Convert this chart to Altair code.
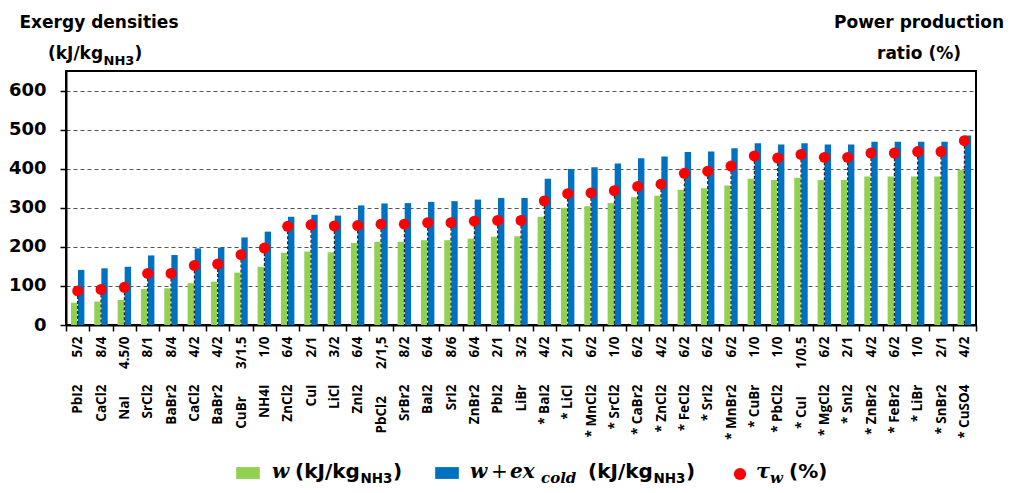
import altair as alt
import pandas as pd

names = ["PbI2", "CaCl2", "NaI", "SrCl2", "BaBr2", "CaCl2", "BaBr2", "CuBr", "NH4I", "ZnCl2",
         "CuI", "LiCl", "ZnI2", "PbCl2", "SrBr2", "BaI2", "SrI2", "ZnBr2", "PbI2", "LiBr",
         "* BaI2", "* LiCl", "* MnCl2", "* SrCl2", "* CaBr2", "* ZnCl2", "* FeCl2", "* SrI2",
         "* MnBr2", "* CuBr", "* PbCl2", "* CuI", "* MgCl2", "* SnI2", "* ZnBr2", "* FeBr2",
         "* LiBr", "* SnBr2", "* CuSO4"]
ratios = ["5/2", "8/4", "4.5/0", "8/1", "8/4", "4/2", "4/2", "3/1.5", "1/0", "6/4",
          "2/1", "3/2", "6/4", "2/1,5", "8/2", "6/4", "8/6", "6/4", "2/1", "3/2",
          "4/2", "2/1", "6/2", "1/0", "6/2", "4/2", "6/2", "6/2",
          "6/2", "1/0", "1/0", "1/0.5", "6/2", "2/1", "4/2", "6/2",
          "1/0", "2/1", "4/2"]
w_vals = [57, 60, 64, 92, 94, 107, 111, 134, 149, 185,
          188, 186, 210, 213, 213, 217, 217, 221, 226, 227,
          277, 300, 304, 312, 327, 331, 346, 350,
          357, 374, 371, 377, 371, 371, 380, 380,
          380, 380, 397]
wc_vals = [141, 145, 149, 178, 179, 196, 198, 224, 239, 277,
           282, 280, 306, 311, 312, 315, 317, 321, 325, 325,
           374, 399, 404, 413, 427, 431, 443, 444,
           452, 465, 462, 465, 462, 462, 469, 469,
           469, 469, 485]
tau_vals = [4.7, 4.9, 5.2, 7.1, 7.1, 8.2, 8.4, 9.7, 10.6, 13.6,
            13.8, 13.65, 13.7, 13.9, 13.9, 14.1, 14.1, 14.3, 14.4, 14.4,
            17.1, 18.1, 18.2, 18.5, 19.1, 19.4, 20.9, 21.2,
            21.9, 23.3, 23.0, 23.5, 23.1, 23.1, 23.7, 23.7,
            23.9, 23.9, 25.4]
series_keys = ["w", "wc"]
series_colors = ["#92D050", "#0070C0"]
left_ticks = [0, 100, 200, 300, 400, 500, 600]
right_ticks = [0, 5, 10, 15, 20, 25, 30, 35]

labels = [f"{n}\u2003\u2003{r}" for n, r in zip(names, ratios)]
n = len(labels)
bars_df = pd.DataFrame({
    "cat": labels * 2,
    "series": [series_keys[0]] * n + [series_keys[1]] * n,
    "value": w_vals + wc_vals,
})
tau_df = pd.DataFrame({"cat": labels, "tau": tau_vals})

W, H = 910, 254
SANS = "DejaVu Sans"
SERIF = "DejaVu Serif"

x_axis = alt.Axis(title=None, labelAngle=270, tickBand="extent", labelFont="Open Sans",
                  labelFontWeight="bold", labelFontSize=13.5, labelColor="black",
                  labelPadding=5, tickSize=6, tickColor="black", tickWidth=1.5,
                  domainColor="black", domainWidth=2, labelOverlap=False, labelLimit=300)
x_enc = alt.X("cat:N", sort=labels, scale=alt.Scale(paddingInner=0, paddingOuter=0), axis=x_axis)

left_axis = alt.Axis(title=None, values=left_ticks, grid=True, gridDash=[4, 3], gridColor="#555555",
                     gridWidth=1, domainColor="black", domainWidth=2, tickColor="black",
                     tickSize=6, tickWidth=1.5, labelFont=SANS, labelFontWeight="bold",
                     labelFontSize=18, labelColor="black", labelPadding=14)
right_axis = alt.Axis(title=None, orient="right", values=right_ticks, grid=False,
                      domainColor="black", domainWidth=2, tickColor="black", tickSize=6,
                      tickWidth=1.5, labelFont=SANS, labelFontWeight="bold", labelFontSize=18,
                      labelColor="black", labelPadding=7)

bars = alt.Chart(bars_df).mark_bar().encode(
    x=x_enc,
    xOffset=alt.XOffset("series:N", sort=series_keys,
                        scale=alt.Scale(paddingInner=0.1, paddingOuter=0.7)),
    y=alt.Y("value:Q", scale=alt.Scale(domain=[0, 650], nice=False, zero=True), axis=left_axis),
    color=alt.Color("series:N", scale=alt.Scale(domain=series_keys, range=series_colors), legend=None),
)

right_scale = alt.Scale(domain=[0, 35], nice=False, zero=True)
rules = alt.Chart(tau_df).mark_rule(color="black", strokeDash=[3, 2], strokeWidth=1).encode(
    x=alt.X("cat:N", sort=labels),
    y=alt.Y("tau:Q", scale=right_scale, axis=right_axis),
    y2=alt.datum(0),
)
dots = alt.Chart(tau_df).mark_circle(color="#FF0000", size=120, opacity=1).encode(
    x=alt.X("cat:N", sort=labels),
    y=alt.Y("tau:Q", scale=right_scale, axis=None),
)
right_layer = alt.layer(rules, dots)

one = pd.DataFrame({"a": [0]})


def txt(x, y, s, font=SANS, size=17, weight="bold", style="normal", align="left"):
    return alt.Chart(one).mark_text(
        text=s, font=font, fontSize=size, fontWeight=weight, fontStyle=style,
        align=align, baseline="alphabetic", color="black"
    ).encode(x=alt.value(x), y=alt.value(y))


def swatch(x, y, color):
    return alt.Chart(one).mark_point(
        shape="M-1,-0.5H1V0.5H-1Z", size=560, filled=True, color=color, opacity=1, strokeWidth=0
    ).encode(x=alt.value(x), y=alt.value(y))


annotations = [
    # left axis title
    txt(33, -43, "Exergy densities", align="center"),
    txt(-18, -12, "(kJ/kg"),
    txt(37.5, -6, "NH3", size=13),
    txt(68.5, -12, ")"),
    # right axis title
    txt(853, -43, "Power production", align="center"),
    txt(853, -12, "ratio (%)", align="center"),
    # legend item 1
    swatch(182, 402, series_colors[0]),
    txt(206, 407, "w", font=SERIF, size=20, style="italic"),
    txt(229, 407, "(kJ/kg", size=20),
    txt(294.5, 412, "NH3", size=13.5),
    txt(327, 407, ")", size=20),
    # legend item 2
    swatch(381, 402, series_colors[1]),
    txt(404, 407, "w", font=SERIF, size=20, style="italic"),
    txt(425, 407, "+", font=SERIF, size=20, weight="normal"),
    txt(444, 407, "ex", font=SERIF, size=20, style="italic"),
    txt(475, 412, "cold", font=SERIF, size=15, style="italic"),
    txt(522, 407, "(kJ/kg", size=20),
    txt(587.5, 412, "NH3", size=13.5),
    txt(620, 407, ")", size=20),
    # legend item 3
    alt.Chart(one).mark_circle(color="#FF0000", size=150, opacity=1).encode(
        x=alt.value(674), y=alt.value(403)),
    txt(690, 407, "τ", font=SERIF, size=21, style="italic"),
    txt(704, 412, "w", font=SERIF, size=15, style="italic"),
    txt(723, 407, "(%)", size=20),
]

chart = alt.layer(bars, right_layer, *annotations).resolve_scale(
    y="independent"
).properties(
    width=W, height=H,
    padding={"left": 0, "top": 6, "right": 0, "bottom": 0},
).configure_view(
    stroke="black", strokeWidth=2
)

chart.save("out.html", embed_options={"renderer": "svg", "actions": False})
